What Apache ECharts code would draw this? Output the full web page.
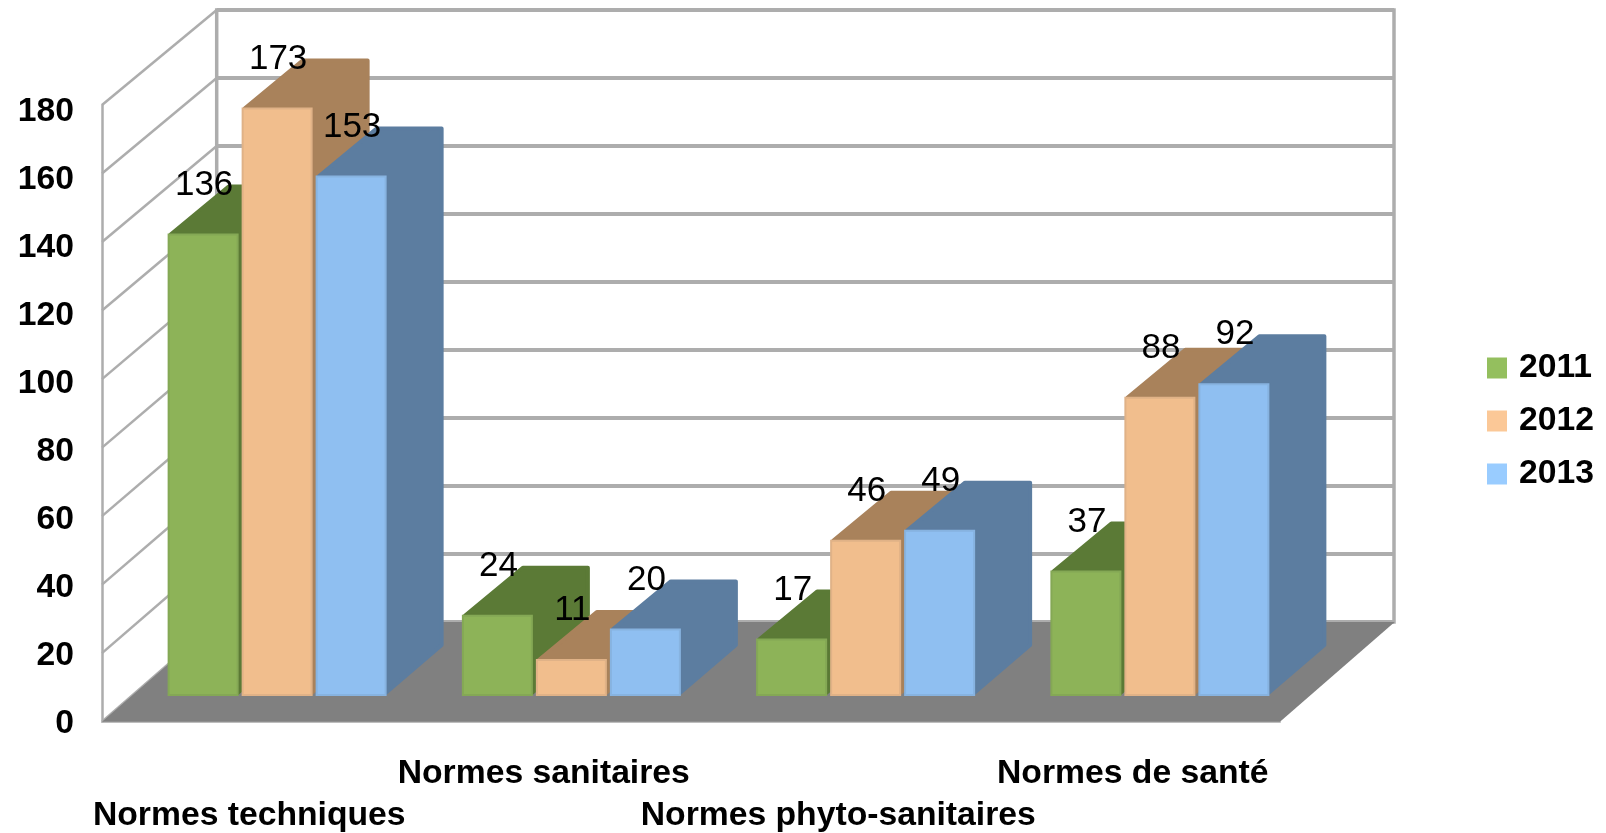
<!DOCTYPE html>
<html><head><meta charset="utf-8">
<script src="https://cdn.jsdelivr.net/npm/echarts@6/dist/echarts.min.js"></script>
<style>html,body{margin:0;padding:0;background:#fff}#c{width:1606px;height:833px}</style>
</head><body><div id="c"></div>
<script>
const categories = ['Normes techniques','Normes sanitaires','Normes phyto-sanitaires','Normes de santé'];
const years = ['2011','2012','2013'];
const values2011 = [136,24,17,37];
const values2012 = [173,11,46,88];
const values2013 = [153,20,49,92];
const yTicks = [0,20,40,60,80,100,120,140,160,180];

const valuesByYear = [values2011,values2012,values2013];
const FONT = '"Liberation Sans", Arial, sans-serif';
const WALL = '#ADADAD';
const faces = [
  {front:'#8DB358', edge:'#84A855', dark:'#5B7A36', legend:'#94BF5E'},
  {front:'#F1BE8D', edge:'#E0B287', dark:'#A9825B', legend:'#FBC897'},
  {front:'#8FBFF1', edge:'#87B3E0', dark:'#5C7DA0', legend:'#99CCFF'}
];
const BAR_W = 69, BAR_STEP = 74, BAR_DX = 58, BAR_DY = 50, BASE_INSET = 2.5;
const BOX_DX = 114.7, BOX_DY0 = 99.7, BOX_DY1 = 95;
const axisFont = {fontFamily:FONT,fontSize:33.7,fontWeight:'bold',color:'#000'};

function renderBar(seriesIdx){
  return function(params,api){
    const top = api.coord([api.value(0),api.value(1)]);
    const baseY = api.coord([api.value(0),0])[1]-BASE_INSET;
    const x0 = top[0] + (seriesIdx-1)*BAR_STEP - BAR_W/2, x1 = x0 + BAR_W;
    const c = faces[seriesIdx];
    const backX = x1+BAR_DX-2, backTop = top[1]-BAR_DY+2;
    return {type:'group',children:[
      {type:'polygon',shape:{points:[[x0+2,top[1]],[x0+BAR_DX+2,backTop],[backX,backTop],[backX,baseY-BAR_DY],[x1,baseY-2],[x1,top[1]]]},
        style:{fill:c.dark,stroke:c.dark,lineWidth:4,lineJoin:'round'}},
      {type:'rect',shape:{x:x0,y:top[1],width:BAR_W,height:baseY-top[1]},
        style:{fill:c.front,stroke:c.edge,lineWidth:2}}
    ]};
  };
}
function renderValue(seriesIdx){
  return function(params,api){
    const top = api.coord([api.value(0),api.value(1)]);
    return {type:'text',style:{text:String(api.value(1)),x:top[0]+(seriesIdx-1)*BAR_STEP+1,y:top[1]-49.5,
      align:'center',verticalAlign:'middle',fontFamily:FONT,fontSize:35,fill:'#000'}};
  };
}
function renderFloor(params,api){
  const w = api.size([1,0])[0];
  const a = api.coord([0,0]), b = api.coord([categories.length-1,0]);
  const l = a[0]-w/2, r = b[0]+w/2, y = a[1];
  return {type:'polygon',shape:{points:[[l,y],[r,y],[r+BOX_DX,y-BOX_DY0],[l+BOX_DX,y-BOX_DY0]]},style:{fill:'#808080'}};
}
function renderSideLine(params,api){
  const v = api.value(1);
  const w = api.size([1,0])[0];
  const p = api.coord([0,v]);
  const x = p[0]-w/2;
  const dy = BOX_DY0-(BOX_DY0-BOX_DY1)*v/180;
  return {type:'line',shape:{x1:x,y1:p[1],x2:x+BOX_DX,y2:p[1]-dy},style:{stroke:WALL,lineWidth:2.5}};
}

const series = [
  {type:'custom',name:'side',xAxisIndex:0,yAxisIndex:0,z:1,silent:true,renderItem:renderSideLine,
    data:yTicks.map(v=>[0,v]),encode:{x:0,y:1}},
  {type:'custom',name:'floor',xAxisIndex:0,yAxisIndex:0,z:2,silent:true,renderItem:renderFloor,
    data:[[0,0]],encode:{x:0,y:1}}
];
years.forEach((y,i)=>{
  series.push({type:'custom',name:y,xAxisIndex:2,yAxisIndex:2,z:3,renderItem:renderBar(i),
    itemStyle:{color:faces[i].legend},
    data:valuesByYear[i].map((v,k)=>[k,v]),encode:{x:0,y:1}});
});
years.forEach((y,i)=>{
  series.push({type:'custom',name:'label'+y,xAxisIndex:2,yAxisIndex:2,z:5,silent:true,renderItem:renderValue(i),
    data:valuesByYear[i].map((v,k)=>[k,v]),encode:{x:0,y:1}});
});

const chart = echarts.init(document.getElementById('c'),null,{renderer:'canvas'});
chart.setOption({
  animation:false,
  backgroundColor:'#fff',
  grid:[
    {left:102,top:105,width:1178,height:616.7,outerBoundsMode:'none'},
    {left:216.7,top:10,width:1177.3,height:612,outerBoundsMode:'none',show:true,borderColor:WALL,borderWidth:3.5,backgroundColor:'#fff'},
    {left:130,top:84.6,width:1177,height:612.9,outerBoundsMode:'none'},
    {left:102,top:112,width:1178,height:612,outerBoundsMode:'none'}
  ],
  xAxis:[
    {gridIndex:0,type:'category',data:categories,
      axisLine:{show:true,lineStyle:{color:'#BDBDBD',width:2}},axisTick:{show:false},
      axisLabel:{...axisFont,interval:0,margin:31,lineHeight:42,
        formatter:(v,i)=>i%2===1?v:'\n'+v}},
    {gridIndex:1,type:'category',data:categories,show:false},
    {gridIndex:2,type:'category',data:categories,show:false},
    {gridIndex:3,type:'category',data:categories,show:false}
  ],
  yAxis:[
    {gridIndex:0,type:'value',min:0,max:180,interval:20,
      axisLine:{show:true,lineStyle:{color:WALL,width:2.5}},axisTick:{show:false},splitLine:{show:false},
      axisLabel:{show:false}},
    {gridIndex:1,type:'value',min:0,max:180,interval:20,
      axisLine:{show:false},axisTick:{show:false},axisLabel:{show:false},
      splitLine:{show:true,lineStyle:{color:WALL,width:4}}},
    {gridIndex:2,type:'value',min:0,max:180,interval:20,show:false,splitLine:{show:false}},
    {gridIndex:3,type:'value',min:0,max:180,interval:20,
      axisLine:{show:false},axisTick:{show:false},splitLine:{show:false},
      axisLabel:{...axisFont,margin:28}}
  ],
  legend:{orient:'vertical',left:1487,top:351,padding:0,itemWidth:20,itemHeight:21,itemGap:19,
    data:years.map((y,i)=>({name:y,icon:'rect',itemStyle:{color:faces[i].legend}})),
    textStyle:{...axisFont,padding:[0,0,0,7]},selectedMode:false},
  series
});
</script></body></html>
